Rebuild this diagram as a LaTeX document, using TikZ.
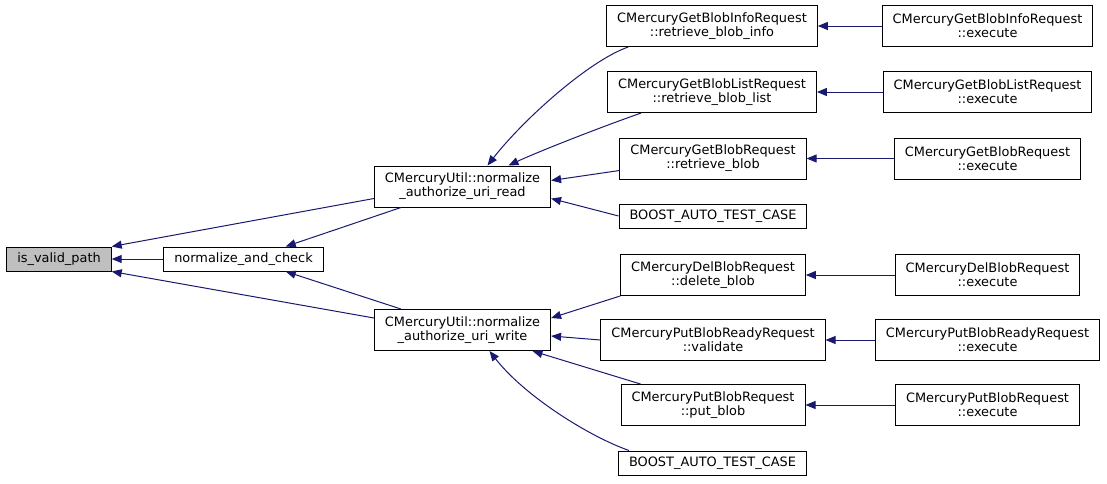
\documentclass[tikz,border=0pt]{standalone}
\usepackage{fontspec}
\setmainfont{DejaVu Sans}
\usetikzlibrary{arrows.meta,calc}
\definecolor{edgeblue}{RGB}{25,25,112}
\definecolor{hlgray}{RGB}{191,191,191}
\newcommand{\gfont}{\fontsize{12.9}{14}\selectfont}
\tikzset{
  fn/.style={draw=black, line width=1pt, inner xsep=10.5pt, inner ysep=1pt,
             minimum height=24pt, align=center, font=\gfont},
  fntwo/.style={fn, minimum height=41pt},
  cur/.style={fn, fill=hlgray},
  call/.style={-{Triangle[length=10pt,width=8pt]}, edgeblue, line width=1pt},
}

\begin{document}
\begin{tikzpicture}[x=1pt, y=-1pt]
  \useasboundingbox (0,0) rectangle (1107,483);
  % callees on the left
  \node[cur] (valid) at (59,259) {is\_valid\_path};
  \node[fn] (chk) at (243.5,259) {normalize\_and\_check};
  \node[fntwo] (rd) at (462.5,186.5) {CMercuryUtil::normalize\\\_authorize\_uri\_read};
  \node[fntwo] (wr) at (462.5,330) {CMercuryUtil::normalize\\\_authorize\_uri\_write};
  % direct callers
  \node[fntwo] (info) at (712,26) {CMercuryGetBlobInfoRequest\\::retrieve\_blob\_info};
  \node[fntwo] (list) at (712,92) {CMercuryGetBlobListRequest\\::retrieve\_blob\_list};
  \node[fntwo] (get) at (713,158.5) {CMercuryGetBlobRequest\\::retrieve\_blob};
  \node[fn] (tca) at (713,216) {BOOST\_AUTO\_TEST\_CASE};
  \node[fntwo] (del) at (713,275) {CMercuryDelBlobRequest\\::delete\_blob};
  \node[fntwo] (val) at (713,340) {CMercuryPutBlobReadyRequest\\::validate};
  \node[fntwo] (put) at (713,405) {CMercuryPutBlobRequest\\::put\_blob};
  \node[fn] (tcb) at (712.5,463) {BOOST\_AUTO\_TEST\_CASE};
  % execute entry points
  \foreach \nm/\yy/\cls in {info/26/GetBlobInfo, list/92/GetBlobList, get/158.5/GetBlob,
                            del/275/DelBlob, val/340/PutBlobReady, put/405/PutBlob}{
    \node[fntwo] (ex\nm) at (987.5,\yy) {CMercury\cls Request\\::execute};
    \draw[call] (ex\nm) -- (\nm);
  }
  % calls
  \draw[call] (chk) -- (valid);
  \draw[call] ($(rd.west)+(0,12)$) -- (valid.north east);
  \draw[call] ($(wr.west)+(0,-12)$) -- (valid.south east);
  \draw[call] ($(rd.south west)+(27,0)$) -- ($(chk.north east)+(-38,0)$);
  \draw[call] ($(wr.north west)+(27,0)$) -- ($(chk.south east)+(-38,0)$);
  \draw[call] ($(info.south west)+(22,0)$) .. controls +(-40,14) and +(35,-45) .. ($(rd.north)+(25,0)$);
  \draw[call] ($(list.south west)+(34,0)$) .. controls +(-40,14) and +(30,-14) .. ($(rd.north)+(46,0)$);
  \draw[call] ($(get.west)+(0,12)$) -- ($(rd.east)+(0,-6)$);
  \draw[call] (tca.west) -- ($(rd.east)+(0,12)$);
  \draw[call] (del.south west) -- ($(wr.east)+(0,-12)$);
  \draw[call] (val.west) -- ($(wr.east)+(0,6)$);
  \draw[call] ($(put.north west)+(20,0)$) -- ($(wr.south)+(70,0)$);
  \draw[call] ($(tcb.north west)+(11,0)$) .. controls +(-40,-14) and +(35,45) .. ($(wr.south)+(27,0)$);
\end{tikzpicture}
\end{document}
